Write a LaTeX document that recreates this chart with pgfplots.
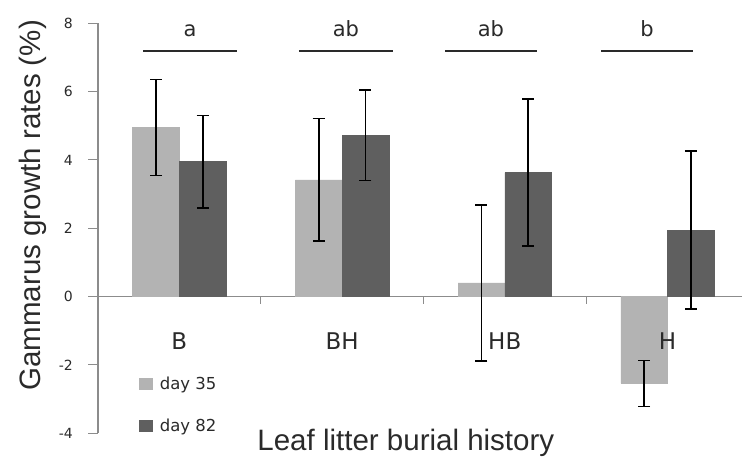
\documentclass[border=0pt]{standalone}
\usepackage{pgfplots}
\pgfplotsset{compat=1.18}
\usepackage{pgfplotstable}
\usepackage{fontspec}
\setmainfont{DejaVu Sans}
\newfontfamily\arialf{Liberation Sans}
\definecolor{lightbar}{HTML}{B3B3B3}
\definecolor{darkbar}{HTML}{5F5F5F}
\definecolor{axisgray}{HTML}{8C8C8C}
\definecolor{txt}{HTML}{2A2A2A}

\pgfplotstableread{
x  y     e
0  4.95  1.40
1  3.42  1.79
2  0.40  2.29
3  -2.54 0.67
}\dayA
\pgfplotstableread{
x  y     e
0  3.95  1.35
1  4.72  1.32
2  3.63  2.15
3  1.95  2.32
}\dayB

\begin{document}
\begin{tikzpicture}
\path[use as bounding box] (-98bp,-33bp) rectangle (644bp,433.3bp);
\begin{axis}[
  at={(0,0)}, anchor=south west,
  scale only axis, width=644bp, height=410bp,
  xmin=-0.5, xmax=3.458, ymin=-4, ymax=8,
  clip=false,
  axis y line*=left, axis x line*=middle,
  axis line style={axisgray, line width=1.2bp},
  tick style={axisgray, line width=1bp},
  tick align=outside,
  major tick length=7bp,
  xtick={0.5,1.5,2.5}, xticklabels={},
  ytick=\empty,
  ylabel={\arialf Gammarus growth rates (\%)},
  ylabel style={at={(axis description cs:-0.101,0.556)}, anchor=center, rotate=0, font=\fontsize{29.5bp}{32bp}\selectfont, text=txt},
  xlabel={\arialf Leaf litter burial history},
  xlabel style={at={(axis description cs:0.478,-0.0415)}, anchor=base, font=\fontsize{29.5bp}{32bp}\selectfont, text=txt},
  ybar=0pt, bar width=0.287,
  legend style={at={(axis description cs:0.064,0.138)}, anchor=north west, draw=none, fill=none,
    font=\fontsize{16.5bp}{18bp}\selectfont, text=txt, row sep=28bp, inner sep=0pt,
    nodes={inner xsep=7bp, inner ysep=0pt}},
  legend cell align=left,
  legend image code/.code={\fill[#1] (0bp,-5.5bp) rectangle (13bp,5.5bp);},
  error bars/error bar style={black, line width=1.6bp},
  error bars/error mark options={black, line width=1.6bp, mark size=6bp, rotate=90},
]
\addplot[fill=lightbar, draw=lightbar,
  error bars/.cd, y dir=both, y explicit]
  table[x=x, y=y, y error=e] {\dayA};
\addlegendentry{day 35}
\addplot[fill=darkbar, draw=darkbar,
  error bars/.cd, y dir=both, y explicit]
  table[x=x, y=y, y error=e] {\dayB};
\addlegendentry{day 82}

% y axis ticks and tick labels
\foreach \v in {-4,-2,0,2,4,6,8}{
  \edef\tmp{\noexpand\draw[axisgray, line width=1bp] (axis cs:-0.5,\v) -- ([xshift=-10bp]axis cs:-0.5,\v);
    \noexpand\node[anchor=east, inner sep=0pt, font=\noexpand\fontsize{14bp}{16bp}\noexpand\selectfont, text=txt] at ([xshift=-25bp]axis cs:-0.5,\v) {\v};}
  \tmp
}
% category labels
\foreach \i/\n in {0/B,1/BH,2/HB,3/H}{
  \edef\tmp{\noexpand\node[anchor=base, font=\noexpand\fontsize{23bp}{25bp}\noexpand\selectfont, text=txt] at (axis cs:\i,-1.55) {\n};}
  \tmp
}
% significance lines and letters
\draw[txt, line width=1.8bp] (axis cs:-0.223,7.2) -- (axis cs:0.354,7.2);
\draw[txt, line width=1.8bp] (axis cs:0.735,7.2) -- (axis cs:1.313,7.2);
\draw[txt, line width=1.8bp] (axis cs:1.633,7.2) -- (axis cs:2.198,7.2);
\draw[txt, line width=1.8bp] (axis cs:2.592,7.2) -- (axis cs:3.157,7.2);
\node[anchor=base, font=\fontsize{21bp}{23bp}\selectfont, text=txt] at (axis cs:0.066,7.62) {a};
\node[anchor=base, font=\fontsize{21bp}{23bp}\selectfont, text=txt] at (axis cs:1.024,7.62) {ab};
\node[anchor=base, font=\fontsize{21bp}{23bp}\selectfont, text=txt] at (axis cs:1.915,7.62) {ab};
\node[anchor=base, font=\fontsize{21bp}{23bp}\selectfont, text=txt] at (axis cs:2.875,7.62) {b};
\end{axis}
\end{tikzpicture}
\end{document}
